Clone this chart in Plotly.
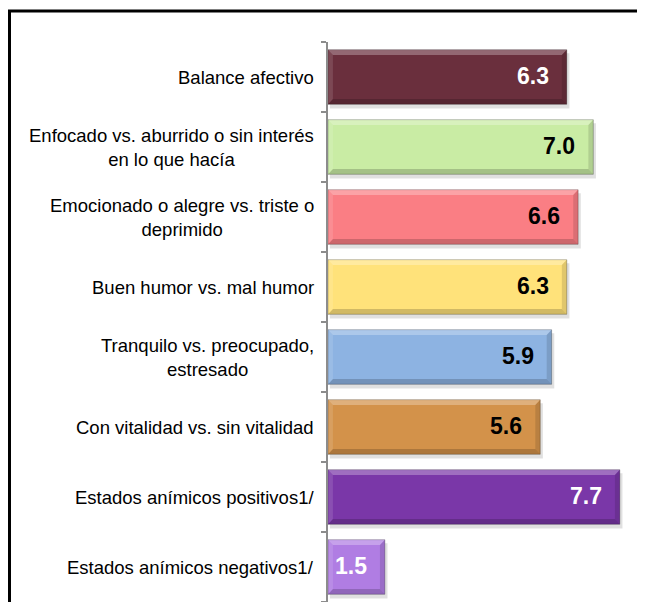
import plotly.graph_objects as go

categories = [
    "Balance afectivo",
    "Enfocado vs. aburrido o sin interés<br>en lo que hacía",
    "Emocionado o alegre vs. triste o<br>deprimido",
    "Buen humor vs. mal humor",
    "Tranquilo vs. preocupado,<br>estresado",
    "Con vitalidad vs. sin vitalidad",
    "Estados anímicos positivos1/",
    "Estados anímicos negativos1/",
]
values = [6.3, 7.0, 6.6, 6.3, 5.9, 5.6, 7.7, 1.5]
bar_colors = ["#6A2F3D", "#C9ECA4", "#FA7E84", "#FFE27A", "#8DB3E2", "#D3924A", "#7A37A8", "#B07DE3"]
label_colors = ["white", "black", "black", "black", "black", "black", "white", "white"]

W, H = 637, 594
ML, MR, MT, MB = 320, 8, 34, 0
PW, PH = W - ML - MR, H - MT - MB
XMAX = PW / 37.9

ypos = list(range(len(categories)))
half = 0.39

fig = go.Figure()
fig.add_trace(go.Bar(
    x=values, y=ypos, orientation="h",
    width=[2 * half] * len(values),
    marker=dict(color=bar_colors, line=dict(color="rgba(0,0,0,0.25)", width=1)),
    hoverinfo="skip",
))

shapes = []
annotations = []
bx = 0.13   # bevel in x data units
by = 0.075  # bevel in y data units
for i, (v, c) in enumerate(zip(values, bar_colors)):
    top = i - half
    bot = i + half
    shapes.append(dict(type="rect", xref="x", yref="y", x0=0.05, x1=v + 0.07, y0=top + 0.05, y1=bot + 0.06,
                       fillcolor="rgba(0,0,0,0.12)", line=dict(width=0), layer="below"))
    shapes.append(dict(type="path", xref="x", yref="y",
                       path=f"M 0 {top} L {v} {top} L {v - bx} {top + by} L {bx} {top + by} Z",
                       fillcolor="rgba(255,255,255,0.28)", line=dict(width=0), layer="above"))
    shapes.append(dict(type="path", xref="x", yref="y",
                       path=f"M 0 {bot} L {v} {bot} L {v - bx} {bot - by} L {bx} {bot - by} Z",
                       fillcolor="rgba(0,0,0,0.18)", line=dict(width=0), layer="above"))
    shapes.append(dict(type="path", xref="x", yref="y",
                       path=f"M {v} {top} L {v} {bot} L {v - bx} {bot - by} L {v - bx} {top + by} Z",
                       fillcolor="rgba(0,0,0,0.12)", line=dict(width=0), layer="above"))
    shapes.append(dict(type="path", xref="x", yref="y",
                       path=f"M 0 {top} L 0 {bot} L {bx} {bot - by} L {bx} {top + by} Z",
                       fillcolor="rgba(255,255,255,0.12)", line=dict(width=0), layer="above"))
    annotations.append(dict(x=v, y=i, xref="x", yref="y", text=f"<b>{v:.1f}</b>",
                            showarrow=False, xanchor="right", yanchor="middle", xshift=-16, yshift=1,
                            font=dict(family="Arial, Liberation Sans", size=23, color=label_colors[i])))
    annotations.append(dict(x=0, y=i, xref="paper", yref="y", text=categories[i],
                            showarrow=False, xanchor="right", yanchor="middle", align="center", xshift=-12,
                            font=dict(family="Arial, Liberation Sans", size=18.5, color="black")))

# outer frame (left and top visible; right/bottom outside the view)
fx0 = (1.5 - ML) / PW
fy1 = 1 + (MT - 3) / PH
shapes.append(dict(type="rect", xref="paper", yref="paper", x0=fx0, x1=2.0, y0=-0.5, y1=fy1,
                   line=dict(color="black", width=3), fillcolor="rgba(0,0,0,0)", layer="above"))

fig.update_layout(
    width=W, height=H,
    margin=dict(l=ML, r=MR, t=MT, b=MB, pad=0),
    paper_bgcolor="white", plot_bgcolor="white",
    showlegend=False,
    bargap=0.22,
    shapes=shapes,
    annotations=annotations,
    xaxis=dict(range=[0, XMAX], visible=False, fixedrange=True),
    yaxis=dict(range=[len(values) - 0.5, -0.5], tickmode="array",
               tickvals=[k - 0.5 for k in range(len(values) + 1)], ticktext=[""] * (len(values) + 1),
               ticks="outside", ticklen=5, tickcolor="#8C8C8C", tickwidth=1.5,
               showline=True, linecolor="#8C8C8C", linewidth=1.5, showgrid=False, zeroline=False),
)

fig.write_html("out.html")
